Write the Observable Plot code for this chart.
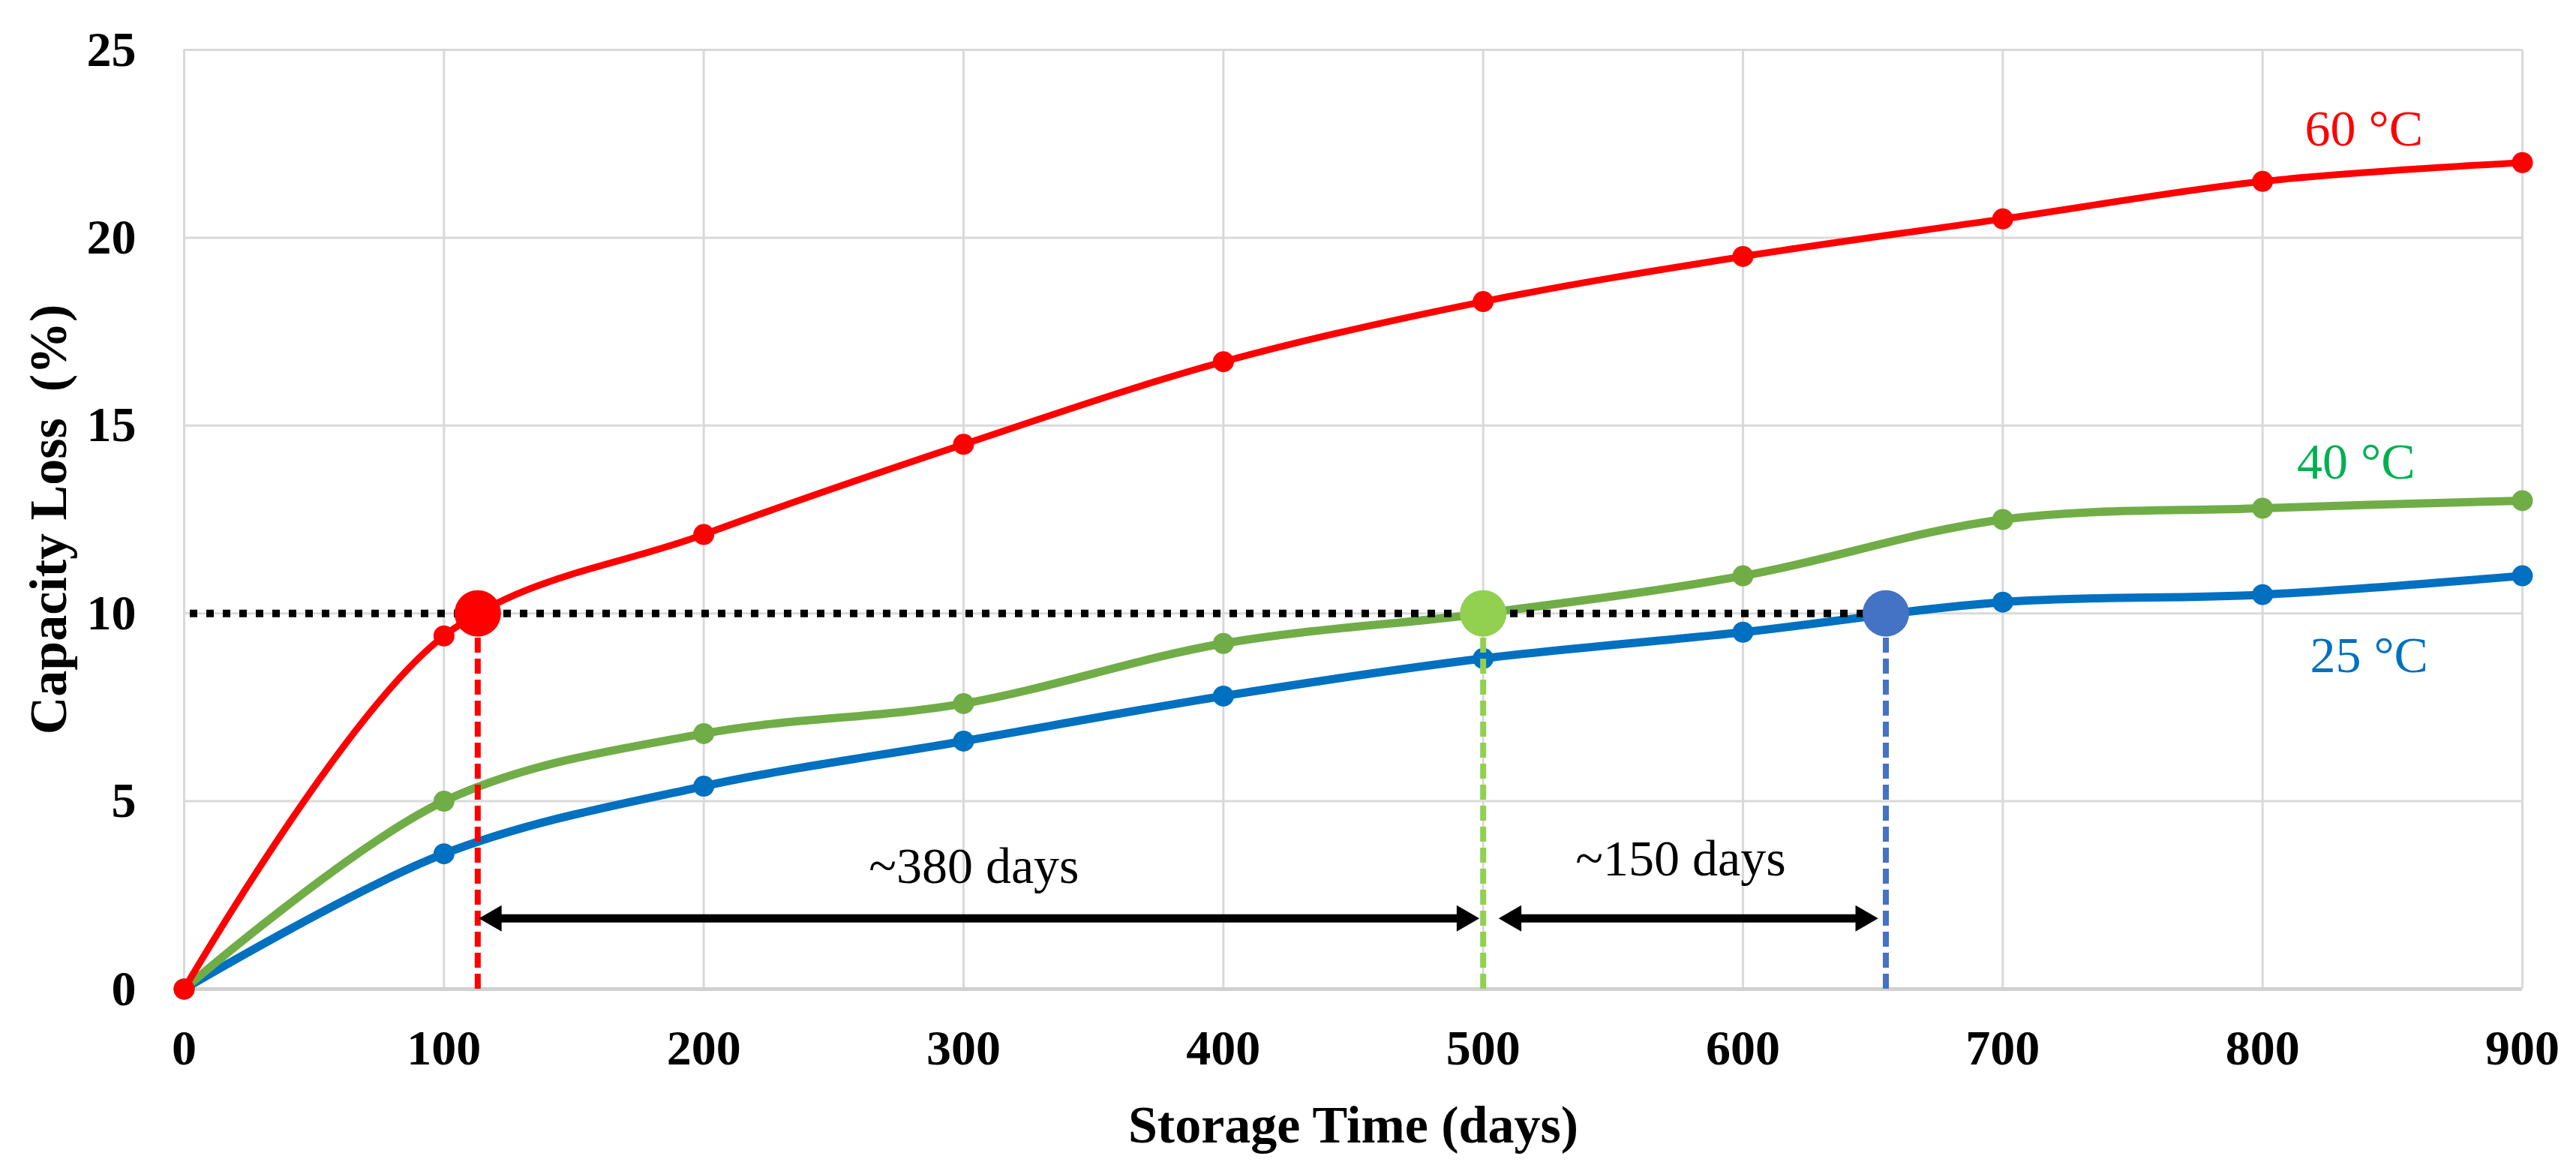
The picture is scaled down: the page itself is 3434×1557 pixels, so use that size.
<!DOCTYPE html>
<html>
<head>
<meta charset="utf-8">
<script src="https://cdn.jsdelivr.net/npm/d3@7"></script>
<script src="https://cdn.jsdelivr.net/npm/@observablehq/plot@0.6"></script>
<style>
  html, body { margin: 0; padding: 0; background: #ffffff; }
  #chart svg { display: block; }
</style>
</head>
<body>
<div id="chart"></div>
<script>
// ---- data ----
const days   = [0, 100, 200, 300, 400, 500, 600, 700, 800, 900];
const loss60 = [0, 9.4, 12.1, 14.5, 16.7, 18.3, 19.5, 20.5, 21.5, 22.0];
const loss40 = [0, 5.0, 6.8, 7.6, 9.2, 10.0, 11.0, 12.5, 12.8, 13.0];
const loss25 = [0, 3.6, 5.4, 6.6, 7.8, 8.8, 9.5, 10.3, 10.5, 11.0];
const seriesNames = ["60 °C", "40 °C", "25 °C"];

const xTicks = [0, 100, 200, 300, 400, 500, 600, 700, 800, 900];
const yTicks = [0, 5, 10, 15, 20, 25];

// 10 % capacity-loss threshold and the day each series reaches it
const threshold = 10;
const crossDays = [113, 500, 655];

// span arrows and their labels
const arrowStarts = [113.5, 506];
const arrowEnds   = [498.5, 652];
const arrowLevel  = 1.88;
const arrowLabels = ["~380 days", "~150 days"];
const arrowLabelX = [304, 576];
const arrowLabelY = [2.82, 3.02];

// series label anchors
const seriesLabelX = [839, 836, 841];
const seriesLabelY = [22.45, 13.58, 8.43];

// ---- styles ----
const lineColors  = ["#FF0000", "#70AD47", "#0070C0"];
const lineWidths  = [9, 11, 11];
const crossColors = ["#FF0000", "#92D050", "#4472C4"];
const labelColors = ["#FF0000", "#00B050", "#0070C0"];
const FONT = "'Liberation Serif', 'Times New Roman', serif";

// ---- tables ----
const seriesValues = [loss60, loss40, loss25];
const series = seriesNames.map((name, i) =>
  days.map((d, j) => ({name, day: d, loss: seriesValues[i][j], idx: i})));
const crossings = crossDays.map((d, i) => ({day: d, loss: threshold, idx: i}));
const arrows = arrowStarts.map((s, i) => ({x1: s, x2: arrowEnds[i], y: arrowLevel}));
const arrowText = arrowLabels.map((t, i) => ({text: t, x: arrowLabelX[i], y: arrowLabelY[i]}));
const seriesText = seriesNames.map((t, i) => ({text: t, x: seriesLabelX[i], y: seriesLabelY[i], idx: i}));

const order = [2, 1, 0]; // draw 25, 40, 60 so red is on top

const marks = [
  Plot.gridX(xTicks, {stroke: "#D9D9D9", strokeOpacity: 1, strokeWidth: 3}),
  Plot.gridY(yTicks, {stroke: "#D9D9D9", strokeOpacity: 1, strokeWidth: 3}),
  Plot.ruleY([0], {stroke: "#D0D0D0", strokeWidth: 5}),
];

for (const i of order) {
  marks.push(Plot.line(series[i], {
    x: "day", y: "loss", stroke: lineColors[i], strokeWidth: lineWidths[i],
    curve: "catmull-rom", strokeLinejoin: "round", strokeLinecap: "round"
  }));
  marks.push(Plot.dot(series[i], {x: "day", y: "loss", r: 14, fill: lineColors[i], stroke: "none"}));
}

// dotted threshold line up to the last crossing
marks.push(Plot.ruleY([threshold], {
  x1: 0, x2: d3.max(crossDays), stroke: "black", strokeWidth: 10,
  strokeDasharray: "10,12", strokeDashoffset: -8
}));

// dashed drop lines
crossings.forEach((c, i) => {
  marks.push(Plot.ruleX([c], {
    x: "day", y1: 0, y2: "loss", stroke: crossColors[i], strokeWidth: 8,
    strokeDasharray: "20,8"
  }));
});

// big crossing markers
crossings.forEach((c, i) => {
  marks.push(Plot.dot([c], {x: "day", y: "loss", r: 31, fill: crossColors[i], stroke: "none"}));
});

// double-headed arrows
marks.push(Plot.ruleY(arrows, {
  x1: "x1", x2: "x2", y: "y", stroke: "black", strokeWidth: 11,
  insetLeft: 18, insetRight: 18
}));
marks.push(Plot.dot(arrows, {
  x: "x2", y: "y", symbol: "triangle", r: 13, rotate: 90, dx: -20, fill: "black", stroke: "none"
}));
marks.push(Plot.dot(arrows, {
  x: "x1", y: "y", symbol: "triangle", r: 13, rotate: -90, dx: 20, fill: "black", stroke: "none"
}));

// arrow labels
marks.push(Plot.text(arrowText, {
  x: "x", y: "y", text: "text", fontSize: 68, fill: "black",
  textAnchor: "middle", lineAnchor: "bottom", fontFamily: FONT
}));

// series labels
seriesText.forEach((s, i) => {
  marks.push(Plot.text([s], {
    x: "x", y: "y", text: "text", fontSize: 68, fill: labelColors[i],
    textAnchor: "middle", lineAnchor: "bottom", fontFamily: FONT
  }));
});

// axes
marks.push(Plot.axisX(xTicks, {
  tickSize: 0, tickPadding: 54, fontSize: 66, fontWeight: "bold", label: null,
  fontFamily: FONT, tickFormat: d => String(d)
}));
marks.push(Plot.axisY(yTicks, {
  tickSize: 0, tickPadding: 64, fontSize: 66, fontWeight: "bold", label: null,
  fontFamily: FONT, tickFormat: d => String(d)
}));

// axis titles
marks.push(Plot.text(["Storage Time (days)"], {
  frameAnchor: "bottom", dy: 204, lineAnchor: "bottom", textAnchor: "middle", text: d => d,
  fontSize: 70, fontWeight: "bold", fill: "black", fontFamily: FONT
}));
marks.push(Plot.text(["Capacity Loss\u00A0 (%)"], {
  frameAnchor: "left", dx: -158, rotate: -90, lineAnchor: "bottom", textAnchor: "middle",
  text: d => d, fontSize: 70, fontWeight: "bold", fill: "black", fontFamily: FONT
}));

const chart = Plot.plot({
  width: 3434,
  height: 1557,
  marginLeft: 245,
  marginRight: 72,
  marginTop: 66,
  marginBottom: 239,
  style: {fontFamily: FONT, background: "#ffffff", color: "black"},
  x: {domain: [0, 900]},
  y: {domain: [0, 25]},
  marks
});
document.getElementById("chart").appendChild(chart);
</script>
</body>
</html>
